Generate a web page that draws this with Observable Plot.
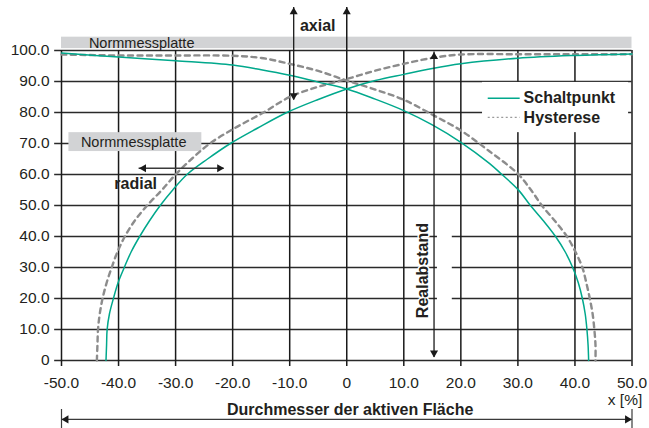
<!DOCTYPE html>
<html><head><meta charset="utf-8">
<script src="https://cdn.jsdelivr.net/npm/d3@7"></script>
<script src="https://cdn.jsdelivr.net/npm/@observablehq/plot@0.6"></script>
<style>body{margin:0;background:#fff}</style>
</head><body><div id="chart"></div>
<script>
// tick values
const xTicks = [-50, -40, -30, -20, -10, 0, 10, 20, 30, 40, 50];
const yTicks = [0, 10, 20, 30, 40, 50, 60, 70, 80, 90, 100];

// Schaltpunkt, falling curve (high on the left)
const schaltFallX = [-50, -40, -30, -20, -15, -10, -5, 0, 5, 10, 15, 20, 25, 27.2, 30, 32.2, 34.5, 36.6, 38.3, 39.6, 40.6, 41.3, 41.8, 42.1, 42.3, 42.4];
const schaltFallY = [99.2, 97.9, 96.7, 95.3, 93.8, 92.0, 89.8, 87.6, 84.3, 80.6, 76.0, 70.4, 63.6, 60, 55.2, 50, 45, 40, 35, 30, 25, 20, 15, 10, 5, 0];
// Schaltpunkt, rising curve (high on the right)
const schaltRiseX = [-42.2, -42.1, -42.0, -41.6, -40.9, -40.1, -39.0, -37.8, -36.3, -34.6, -32.7, -30.5, -28, -24.4, -20.4, -15.6, -10.5, -5, 0, 5, 10, 15, 20, 30, 40, 50];
const schaltRiseY = [0, 5, 10, 15, 20, 25, 30, 35, 40, 45, 50, 55, 60, 65, 70, 75, 80, 84.2, 87.6, 90.3, 92.3, 94.2, 95.7, 97.5, 98.4, 98.9];
// Hysterese, falling curve
const hystFallX = [-50, -40, -30, -20, -15, -10, -5, 0, 5, 10, 15, 20, 25, 30, 32.3, 34.2, 36.5, 38.6, 40.1, 41.3, 42.0, 42.6, 43.1, 43.4, 43.6, 43.6];
const hystFallY = [98.7, 98.4, 98.4, 98.3, 97.6, 95.7, 93.4, 90.3, 87.4, 84.1, 79.3, 74.2, 67.5, 60.2, 55, 50, 45, 40, 35, 30, 25, 20, 15, 10, 5, 0];
// Hysterese, rising curve
const hystRiseX = [-43.8, -43.7, -43.6, -43.3, -42.8, -42.1, -41.2, -40.2, -38.9, -37.2, -35, -32.4, -30, -27.2, -24, -19.6, -14.6, -10, -5, 0, 5, 10, 15, 20, 30, 40, 50];
const hystRiseY = [0, 5, 10, 15, 20, 25, 30, 35, 40, 45, 50, 55, 60, 65, 70, 75, 80, 85, 88.3, 90.8, 93.5, 95.7, 97.6, 98.7, 98.8, 98.8, 98.8];

const seriesNames = ["Schaltpunkt", "Hysterese"];

const toPts = (xs, ys) => xs.map((x, i) => ({x, y: ys[i]}));
const fmt = d => d === 0 ? "0" : d.toFixed(1);

const TEAL = "#00a88c";
const GREY = "#8c8c8c";
const INK = "#231f20";
const FONT = "'Liberation Sans', Arial, Helvetica, sans-serif";

const head = (x, y, dir, color) => Plot.dot([{x, y}], {
  x: "x", y: "y", symbol: "triangle", r: 3, fill: color, stroke: null,
  rotate: dir === "up" ? 0 : dir === "down" ? 180 : dir === "right" ? 90 : -90,
  dx: dir === "right" ? -4.6 : dir === "left" ? 4.6 : 0,
  dy: dir === "up" ? 4.6 : dir === "down" ? -4.6 : 0
});

const chart = Plot.plot({
  width: 649, height: 428,
  marginLeft: 61, marginRight: 17.5, marginTop: 50, marginBottom: 68,
  style: {fontSize: "15.5px", fontFamily: FONT, color: INK, background: "white", overflow: "visible"},
  x: {domain: [-50, 50], ticks: xTicks, tickFormat: fmt, tickSize: 0, tickPadding: 16, label: null},
  y: {domain: [0, 100], ticks: yTicks, tickFormat: fmt, tickSize: 0, tickPadding: 12, label: null},
  marks: [
    // grid with tick extensions
    Plot.ruleY(yTicks, {y: d => d, x1: -51.2, x2: 50, stroke: "#2a2a2a", strokeWidth: 1.6}),
    Plot.ruleX(xTicks, {x: d => d, y1: -1.9, y2: 100, stroke: "#1a1a1a", strokeWidth: 1.5}),
    // top band
    Plot.rect([0], {x1: -50, x2: 50, y1: 100.6, y2: 104.3, fill: "#d2d3d5"}),
    Plot.text(["Normmessplatte"], {x: -45.2, y: 102.3, text: d => d, textAnchor: "start", fontSize: 14.5, fill: INK}),
    // second box
    Plot.rect([0], {x1: -48.7, x2: -25.4, y1: 67.4, y2: 73.5, fill: "#d2d3d5"}),
    Plot.text(["Normmessplatte"], {x: -46.6, y: 70.4, text: d => d, textAnchor: "start", fontSize: 14.5, fill: INK}),
    // legend background
    Plot.rect([0], {x1: 23.8, x2: 49.4, y1: 73.5, y2: 89.7, fill: "white"}),
    // Realabstand gap
    Plot.rect([0], {x1: 15.9, x2: 18.5, y1: 15, y2: 44, fill: "white"}),
    // curves
    Plot.line(toPts(hystFallX, hystFallY), {x: "x", y: "y", stroke: GREY, strokeWidth: 2.4, strokeDasharray: "5,4.5", curve: "catmull-rom"}),
    Plot.line(toPts(hystRiseX, hystRiseY), {x: "x", y: "y", stroke: GREY, strokeWidth: 2.4, strokeDasharray: "5,4.5", curve: "catmull-rom"}),
    Plot.line(toPts(schaltFallX, schaltFallY), {x: "x", y: "y", stroke: TEAL, strokeWidth: 1.5, curve: "catmull-rom"}),
    Plot.line(toPts(schaltRiseX, schaltRiseY), {x: "x", y: "y", stroke: TEAL, strokeWidth: 1.5, curve: "catmull-rom"}),
    // legend
    Plot.ruleY([84.6], {y: d => d, x1: 24.8, x2: 30.4, stroke: TEAL, strokeWidth: 1.5}),
    Plot.ruleY([78.4], {y: d => d, x1: 24.8, x2: 30.4, stroke: "#9a9a9a", strokeWidth: 1.3, strokeDasharray: "2,2.5"}),
    Plot.text(seriesNames, {x: 31, y: (d, i) => i === 0 ? 84.6 : 78.4, text: d => d, textAnchor: "start", fontSize: 16, fontWeight: "bold", fill: INK}),
    // Realabstand label
    Plot.text(["Realabstand"], {x: 13.4, y: 29, text: d => d, rotate: -90, fontSize: 16, fontWeight: "bold", fill: INK, stroke: "white", strokeWidth: 3}),
    // axial arrow
    Plot.ruleX([-9.3], {x: d => d, y1: 84, y2: 113.9, stroke: "#1a1a1a", strokeWidth: 1.3}),
    head(-9.3, 113.9, "up", "#1a1a1a"), head(-9.3, 84, "down", "#1a1a1a"),
    Plot.text(["axial"], {x: -8.2, y: 108, text: d => d, textAnchor: "start", fontSize: 16, fontWeight: "bold", fill: INK}),
    // x = 0 arrow up
    Plot.ruleX([0], {x: d => d, y1: 100, y2: 113.9, stroke: "#1a1a1a", strokeWidth: 1.5}),
    head(0, 113.9, "up", "#1a1a1a"),
    // Realabstand arrow
    Plot.ruleX([15.3], {x: d => d, y1: 1, y2: 99.5, stroke: "#1a1a1a", strokeWidth: 1.3}),
    head(15.3, 99.5, "up", "#1a1a1a"), head(15.3, 1, "down", "#1a1a1a"),
    // radial arrow
    Plot.ruleY([62], {y: d => d, x1: -36.4, x2: -21.5, stroke: "#3a3a3a", strokeWidth: 1.5}),
    head(-36.4, 62, "left", "#1a1a1a"), head(-21.5, 62, "right", "#1a1a1a"),
    Plot.text(["radial"], {x: -37, y: 57.1, text: d => d, fontSize: 16, fontWeight: "bold", fill: INK}),
    // Durchmesser arrow
    Plot.ruleY([-19], {y: d => d, x1: -50, x2: 50, stroke: "#3a3a3a", strokeWidth: 1.2}),
    head(-50, -19, "left", "#1a1a1a"), head(50, -19, "right", "#1a1a1a"),
    Plot.ruleX([-50, 50], {x: d => d, y1: -15.8, y2: -22, stroke: "#3a3a3a", strokeWidth: 1.2}),
    Plot.text(["Durchmesser der aktiven Fläche"], {x: 0.6, y: -15.8, text: d => d, fontSize: 16, fontWeight: "bold", fill: INK}),
    Plot.text(["x [%]"], {x: 51.8, y: -12.8, text: d => d, textAnchor: "end", fontSize: 15.5, fill: INK})
  ]
});
document.getElementById("chart").appendChild(chart);
</script>
</body></html>
